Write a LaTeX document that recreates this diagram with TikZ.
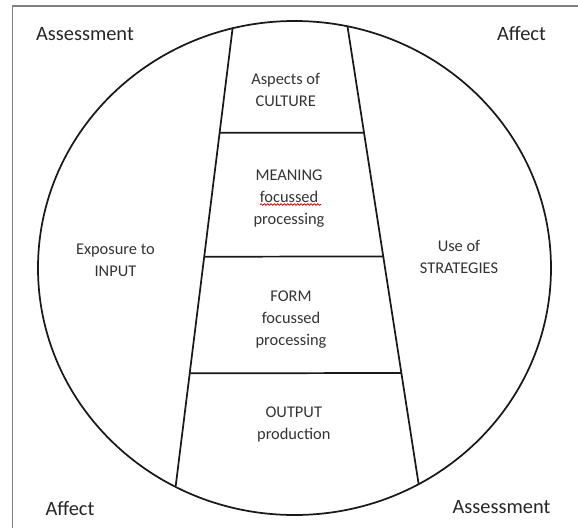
\documentclass[tikz,border=0pt]{standalone}
\usepackage{fontspec}
\setmainfont{Carlito}
\usetikzlibrary{decorations.pathmorphing}
\begin{document}
\begin{tikzpicture}[x=0.75pt,y=-0.75pt,
  outline/.style={line width=1.3pt, draw=black!90},
  framebox/.style={line width=1.1pt, draw=black!50},
  corner/.style={font=\fontsize{15.3}{18}\selectfont, text=black!85, inner sep=0pt},
  lab/.style={font=\fontsize{12.3}{16.5}\selectfont, text=black!80, align=center, inner sep=0pt},
  squiggle/.style={draw=red!85!black, line width=0.6pt, decorate, decoration={snake, amplitude=0.6pt, segment length=2.5pt}}]
\useasboundingbox (0,0) rectangle (578,528);
\begin{scope}
  \clip (0,0) rectangle (578,528);
  \draw[framebox] (12.5,6) rectangle (600,560);
\end{scope}
% circle
\coordinate (c) at (294.5,268);
\draw[outline] (c) ellipse [x radius=256.5, y radius=247];
% trapezoid sides
\coordinate (tl) at (232.7,27.5);
\coordinate (bl) at (175.7,486);
\coordinate (tr) at (347.5,26.5);
\coordinate (br) at (418.7,484.5);
\draw[outline] (tl) -- (bl);
\draw[outline] (tr) -- (br);
% dividers
\coordinate (h1a) at (0,133);   \coordinate (h1b) at (600,132.5);
\coordinate (h2a) at (0,256.9); \coordinate (h2b) at (600,256.3);
\coordinate (h3a) at (0,373.5); \coordinate (h3b) at (600,372.8);
\draw[outline] (intersection of tl--bl and h1a--h1b) -- (intersection of tr--br and h1a--h1b);
\draw[outline] (intersection of tl--bl and h2a--h2b) -- (intersection of tr--br and h2a--h2b);
\draw[outline] (intersection of tl--bl and h3a--h3b) -- (intersection of tr--br and h3a--h3b);
% corner labels
\node[corner] (a1) at (85,34) {Assessment};
\node[corner] (a2) at (521.5,34) {Affect};
\node[corner] (a3) at (70,509) {Affect};
\node[corner] (a4) at (501.5,507) {Assessment};
% inner labels
\node[lab] (cul) at (285.7,90) {Aspects of\\CULTURE};
\node[lab] (mean) at (289,199) {MEANING\\focussed\\processing};
\node[lab] (inp) at (115.4,260) {Exposure to\\INPUT};
\node[lab] (str) at (459,257) {Use of\\STRATEGIES};
\node[lab] (form) at (291,320) {FORM\\focussed\\processing};
\node[lab] (out) at (293.8,424.5) {OUTPUT\\production};
% spell-check squiggle
\coordinate (sq1) at (260,204.5);
\coordinate (sq2) at (321,204.5);
\draw[squiggle] (sq1) -- (sq2);
\end{tikzpicture}
\end{document}
